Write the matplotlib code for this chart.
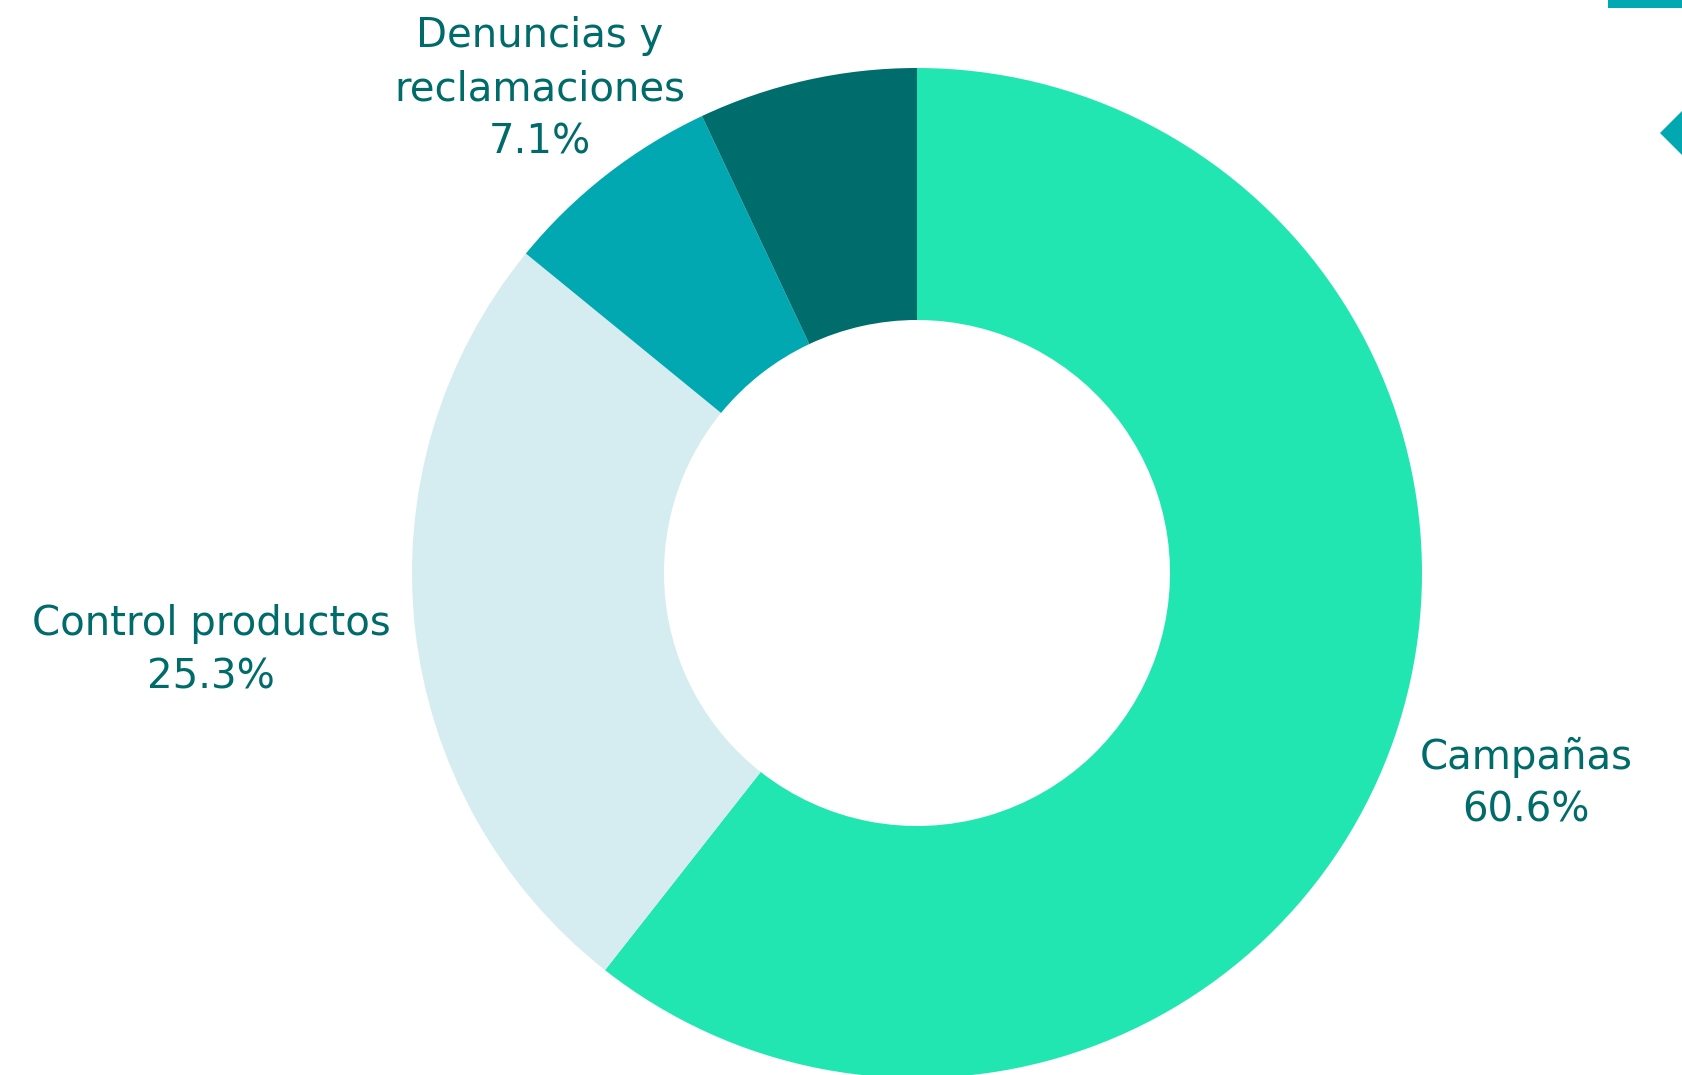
import numpy as np
import matplotlib.pyplot as plt
from matplotlib.patches import Polygon, Rectangle

labels = ["Campañas", "Control productos", "Denuncias y\nreclamaciones", ""]
values = [60.6, 25.3, 7.1, 7.0]
colors = ["#22E6B1", "#D5EDF0", "#02A8B1", "#006D6D"]
label_dist = [1.277, 1.406, 1.215, 1.25]

text_color = "#006B6B"
plt.rcParams['font.family'] = ['DejaVu Sans']

W, H = 1682, 1075
fig = plt.figure(figsize=(W / 100, H / 100), dpi=100)
ax = fig.add_axes([0, 0, 1, 1])

cx, cy = 917, H - 573
R = 505

wedges, _ = ax.pie(values, colors=colors, startangle=90, counterclock=False,
                   center=(cx, cy), radius=R,
                   wedgeprops=dict(width=R - 253, linewidth=0))

for w, lab, v, d in zip(wedges, labels, values, label_dist):
    if not lab:
        continue
    mid = np.deg2rad((w.theta1 + w.theta2) / 2)
    x = cx + d * R * np.cos(mid)
    y = cy + d * R * np.sin(mid)
    ax.text(x, y, f"{lab}\n{v}%", ha="center", va="center", color=text_color,
            fontsize=29, linespacing=1.42)

# decorative pieces clipped at top right
ax.add_patch(Rectangle((1608, H - 8), 80, 8, color="#02A8B1", linewidth=0))
ax.add_patch(Polygon([(1660, H - 133), (1682, H - 111), (1704, H - 133), (1682, H - 155)],
                     closed=True, color="#02A8B1", linewidth=0))

ax.set_xlim(0, W)
ax.set_ylim(0, H)
ax.set_aspect("equal")
ax.axis("off")

fig.savefig("out.png", dpi=100, facecolor="white")
